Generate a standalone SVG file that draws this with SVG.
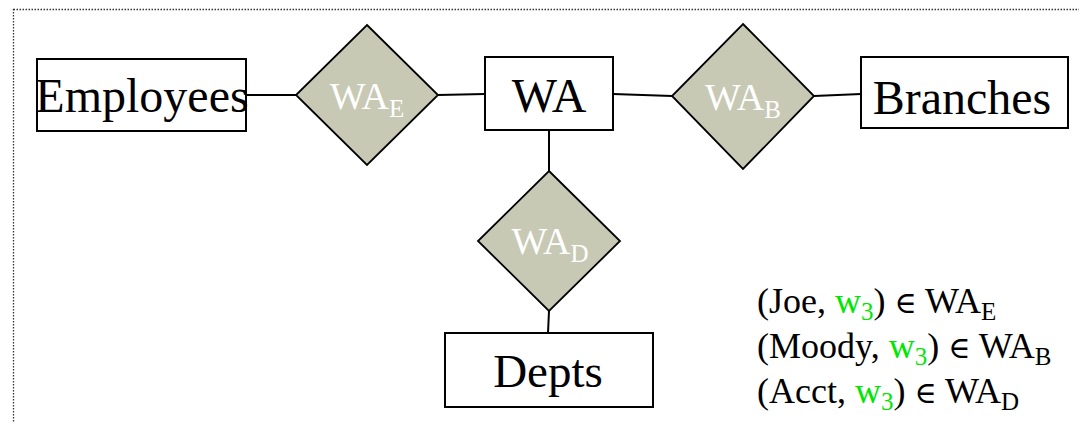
<svg xmlns="http://www.w3.org/2000/svg" width="1079" height="423" viewBox="0 0 1079 423">
  <style>
    .frame { fill: none; stroke: #333; stroke-width: 1.3; stroke-dasharray: 1.5 1.5; }
    .entity { fill: #fff; stroke: #000; stroke-width: 2; }
    .rel { fill: #c7c9b4; stroke: #000; stroke-width: 1.8; }
    .link { stroke: #000; stroke-width: 2; fill: none; }
    .ename { font-family: "Liberation Serif", "Times New Roman", serif; font-size: 48px; fill: #000; text-anchor: middle; }
    .rname { font-family: "Liberation Serif", "Times New Roman", serif; font-size: 38px; fill: #fff; text-anchor: middle; }
    .sub { font-size: 25px; }
    .fact { font-family: "Liberation Serif", "Times New Roman", "DejaVu Serif", serif; font-size: 36px; fill: #000; }
    .elem { font-size: 30px; }
    .green { fill: #00e600; }
  </style>

  <!-- dotted slide frame -->
  <rect class="frame" x="13.5" y="9.5" width="1120" height="460"/>

  <!-- connectors -->
  <g id="connectors">
    <line class="link" x1="246" y1="95" x2="296" y2="95"/>
    <line class="link" x1="438" y1="95" x2="485" y2="94"/>
    <line class="link" x1="613" y1="94" x2="672" y2="96"/>
    <line class="link" x1="814" y1="96" x2="861" y2="94"/>
    <line class="link" x1="549" y1="130" x2="549" y2="171"/>
    <line class="link" x1="549" y1="311" x2="548" y2="333"/>
  </g>

  <!-- entity sets -->
  <g id="employees">
    <rect class="entity" x="37" y="59" width="209" height="72"/>
    <text class="ename" x="142" y="112">Employees</text>
  </g>
  <g id="wa">
    <rect class="entity" x="485" y="57" width="128" height="73"/>
    <text class="ename" x="549" y="112">WA</text>
  </g>
  <g id="branches">
    <rect class="entity" x="861" y="57" width="207" height="71"/>
    <text class="ename" x="962" y="114">Branches</text>
  </g>
  <g id="depts">
    <rect class="entity" x="445" y="333" width="208" height="74"/>
    <text class="ename" x="548" y="387" style="font-size:47px">Depts</text>
  </g>

  <!-- relationship sets -->
  <g id="wa-e">
    <polygon class="rel" points="367,25 438,95 367,165 296,95"/>
    <text class="rname" x="367" y="109">WA<tspan class="sub" dy="8">E</tspan></text>
  </g>
  <g id="wa-b">
    <polygon class="rel" points="743,24 814,96 743,169 672,96"/>
    <text class="rname" x="743" y="110">WA<tspan class="sub" dy="8">B</tspan></text>
  </g>
  <g id="wa-d">
    <polygon class="rel" points="549,171 620,241 549,311 478,241"/>
    <text class="rname" x="550" y="254">WA<tspan class="sub" dy="8">D</tspan></text>
  </g>

  <!-- example tuples -->
  <g id="facts">
    <text class="fact" x="757" y="313">(Joe, <tspan class="green">w</tspan><tspan class="green sub" dy="7">3</tspan><tspan dy="-7">) </tspan><tspan class="elem">∈</tspan> WA<tspan class="sub" dy="7">E</tspan></text>
    <text class="fact" x="757" y="358">(Moody, <tspan class="green">w</tspan><tspan class="green sub" dy="7">3</tspan><tspan dy="-7">) </tspan><tspan class="elem">∈</tspan> WA<tspan class="sub" dy="7">B</tspan></text>
    <text class="fact" x="757" y="403">(Acct, <tspan class="green">w</tspan><tspan class="green sub" dy="7">3</tspan><tspan dy="-7">) </tspan><tspan class="elem">∈</tspan> WA<tspan class="sub" dy="7">D</tspan></text>
  </g>
</svg>
